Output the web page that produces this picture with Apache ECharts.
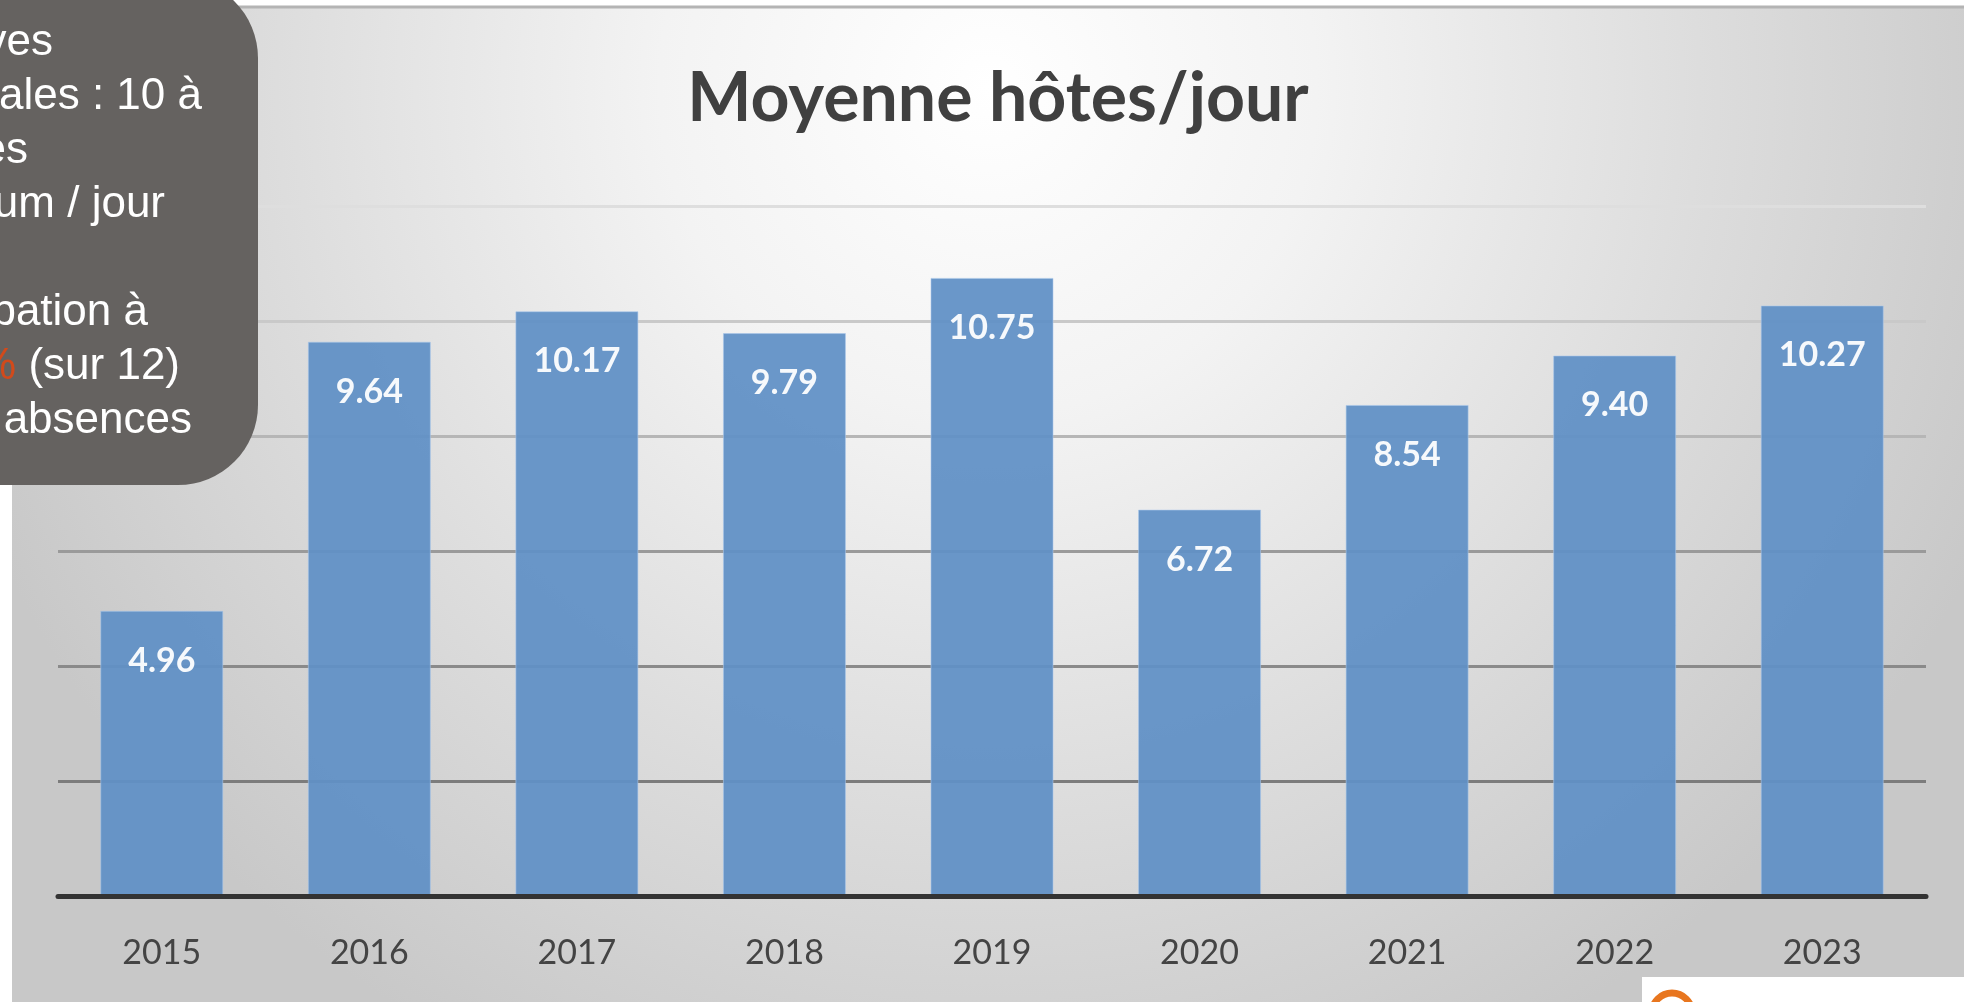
<!DOCTYPE html>
<html><head><meta charset="utf-8">
<script src="https://cdn.jsdelivr.net/npm/echarts@6/dist/echarts.min.js"></script>
<style>html,body{margin:0;padding:0;background:#fff;overflow:hidden}#c{width:1964px;height:1002px}</style>
</head><body><div id="c"></div>
<script>
// ---- data ----
const years = ['2015', '2016', '2017', '2018', '2019', '2020', '2021', '2022', '2023'];
const hostsPerDay = [4.96, 9.64, 10.17, 9.79, 10.75, 6.72, 8.54, 9.40, 10.27];
const yMin = 0;
const yMax = 12;
const yStep = 2;
const titleText = 'Moyenne hôtes/jour';
const noteLines = ['ves', 'ales : 10 à', 'es', 'um / jour', '', 'pation à', '{o|%} (sur 12)', 'absences'];

// ---- layout ----
const noteRightEnds = [53, 202, 28, 165, 0, 148, 180, 192];
const noteFirstMiddle = 43;
const noteLineStep = 54;

const chart = echarts.init(document.getElementById('c'), null, {renderer: 'canvas'});

const graphics = [
  {
    type: 'rect', z: -10, silent: true,
    shape: {x: 12, y: 7, width: 1952, height: 995},
    style: {
      fill: new echarts.graphic.RadialGradient(0.5, 0.08, 1.1, [
        {offset: 0, color: '#ffffff'},
        {offset: 0.3, color: '#f3f3f3'},
        {offset: 0.65, color: '#dddddd'},
        {offset: 1, color: '#c8c8c8'}
      ])
    }
  },
  {
    type: 'line', z: -9, silent: true,
    shape: {x1: 12, y1: 7, x2: 1964, y2: 7},
    style: {stroke: '#b4b4b4', lineWidth: 3}
  },
  {
    type: 'rect', z: 100, silent: true,
    shape: {x: -100, y: -22, width: 358, height: 507, r: 80},
    style: {fill: '#656260'}
  },
  {
    type: 'rect', z: 100, silent: true,
    shape: {x: 1642, y: 977, width: 322, height: 25},
    style: {fill: '#ffffff'}
  },
  {
    type: 'circle', z: 101, silent: true,
    shape: {cx: 1672, cy: 1013, r: 20},
    style: {fill: 'none', stroke: '#E8761F', lineWidth: 7}
  }
];

noteLines.forEach(function (t, i) {
  if (!t) return;
  graphics.push({
    type: 'text', z: 102, silent: true,
    x: noteRightEnds[i],
    y: noteFirstMiddle + i * noteLineStep,
    style: {
      text: t,
      fill: '#ffffff',
      font: '44px "Liberation Sans", Arial, sans-serif',
      align: 'right',
      verticalAlign: 'middle',
      rich: {
        o: {fill: '#D24A1B', font: '44px "Liberation Sans", Arial, sans-serif'}
      }
    }
  });
});

chart.setOption({
  animation: false,
  backgroundColor: '#ffffff',
  title: {
    text: titleText,
    left: 993,
    top: 60,
    textAlign: 'center',
    textStyle: {
      fontFamily: 'Lato, "Open Sans", sans-serif',
      fontWeight: 'bold',
      fontSize: 68,
      color: '#404040'
    }
  },
  graphic: graphics,
  grid: {left: 58, right: 38, top: 206, bottom: 106, containLabel: false},
  xAxis: {
    type: 'category',
    data: years,
    axisTick: {show: false},
    axisLine: {show: true, lineStyle: {color: '#333333', width: 5}},
    axisLabel: {
      margin: 40,
      fontFamily: 'Lato, "Open Sans", sans-serif',
      fontSize: 34,
      color: '#444444'
    },
    z: 5
  },
  yAxis: {
    type: 'value',
    min: yMin, max: yMax, interval: yStep,
    axisLabel: {show: false},
    axisLine: {show: false},
    axisTick: {show: false},
    splitLine: {
      show: true,
      lineStyle: {
        width: 3,
        color: ['#555555', '#7c7c7c', '#8a8a8a', '#9a9a9a', '#b6b6b6', '#c9c9c9', '#dedede']
      }
    }
  },
  series: [{
    type: 'bar',
    data: hostsPerDay,
    barWidth: 123,
    itemStyle: {color: '#6190c6', opacity: 0.94, borderColor: 'rgba(170,200,235,0.6)', borderWidth: 1},
    label: {
      show: true,
      position: 'insideTop',
      distance: 33,
      formatter: function (p) { return p.value.toFixed(2); },
      fontFamily: 'Lato, "Open Sans", sans-serif',
      fontWeight: 'bold',
      fontSize: 34,
      color: '#ffffff'
    }
  }]
});
</script>
</body></html>
